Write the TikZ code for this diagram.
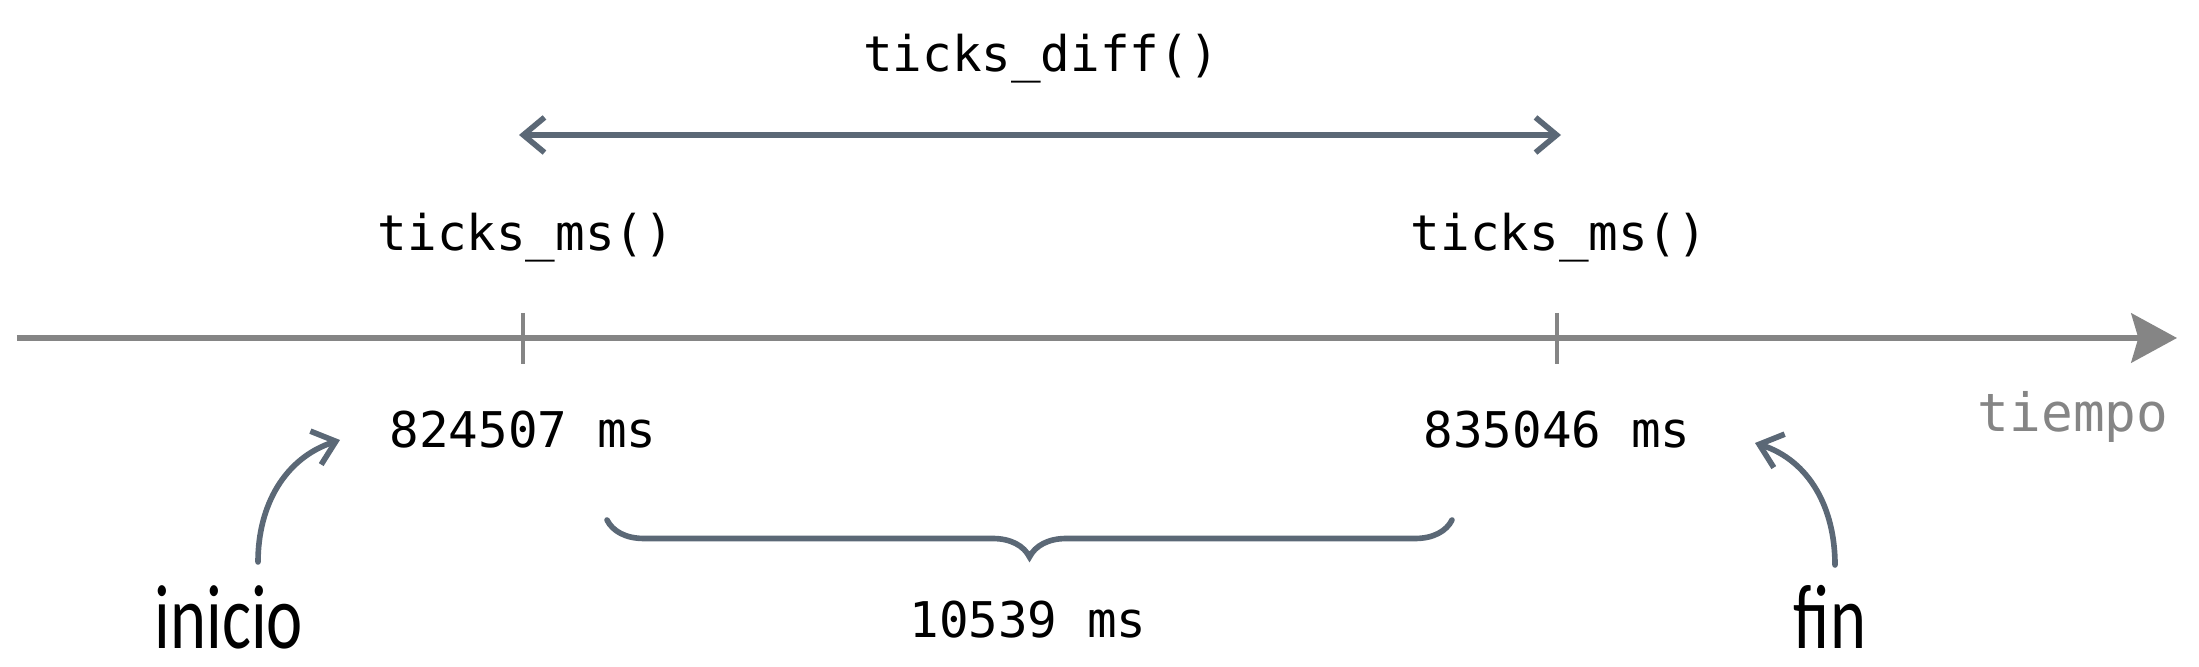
\documentclass[tikz,border=0pt]{standalone}
\usepackage{fontspec}
\usetikzlibrary{arrows.meta,decorations.pathreplacing}
\setmonofont{DejaVu Sans Mono}
\newfontfamily\handfont{Carlito}
\definecolor{slate}{HTML}{5B6876}
\definecolor{axisgray}{HTML}{858585}

\begin{document}
\begin{tikzpicture}
            \tikzset{
                code/.style={font=\ttfamily\fontsize{14}{16}\selectfont, inner sep=0pt},
                hand/.style={font=\handfont\fontsize{26}{30}\selectfont, xscale=0.75, inner sep=0pt},
                axis/.style={axisgray, line width=1.6pt, -{Stealth[length=13pt,width=14pt,inset=2pt]}},
                tick/.style={axisgray, line width=1.4pt},
                edge/.style={slate, line width=1.6pt, line cap=round, -{Straight Barb[length=6pt,width=10pt]}}
            }
            \useasboundingbox (0,0) rectangle (21.99,6.67);
            % axis
            \coordinate (t0) at (0.17,3.29);
            \coordinate (t1) at (21.77,3.29);
            \draw[axis] (t0) -- (t1);
            \coordinate (ta) at (5.23,3.29);
            \coordinate (tb) at (15.57,3.29);
            \draw[tick] ([yshift=0.25cm]ta) -- ([yshift=-0.26cm]ta);
            \draw[tick] ([yshift=0.25cm]tb) -- ([yshift=-0.26cm]tb);
            \node[code, text=axisgray, font=\ttfamily\fontsize{15}{18}\selectfont] (tiempo) at (20.73,2.50) {tiempo};

            % labels
            \node[code] (msa) at (5.26,4.29) {ticks\_ms()};
            \node[code] (msb) at (15.59,4.29) {ticks\_ms()};
            \node[code] (diff) at (10.41,6.08) {ticks\_diff()};
            \node[code] (va) at (5.23,2.37) {824507 ms};
            \node[code] (vb) at (15.57,2.37) {835046 ms};
            \node[code] (delta) at (10.28,0.47) {10539 ms};
            \node[hand] (inicio) at (2.29,0.50) {inicio};
            \node[hand] (fin) at (18.30,0.50) {fin};

            % interval
            \coordinate (d0) at (5.19,5.32);
            \coordinate (d1) at (15.61,5.32);
            \draw[edge, {Straight Barb[length=6pt,width=10pt]}-{Straight Barb[length=6pt,width=10pt]}] (d0) -- (d1);
            \coordinate (b0) at (6.07,1.47);
            \coordinate (b1) at (14.52,1.47);
            \draw[slate, line width=1.6pt, line cap=round, decorate, decoration={brace, mirror, amplitude=0.37cm}] (b0) -- (b1);

            % pointers
            \coordinate (ia) at (2.58,1.05);
            \coordinate (ib) at (3.40,2.27);
            \coordinate (fa) at (18.35,1.02);
            \coordinate (fb) at (17.55,2.24);
            \draw[edge] (ia) to[out=90, in=198] (ib);
            \draw[edge] (fa) to[out=90, in=-18] (fb);
\end{tikzpicture}
\end{document}
